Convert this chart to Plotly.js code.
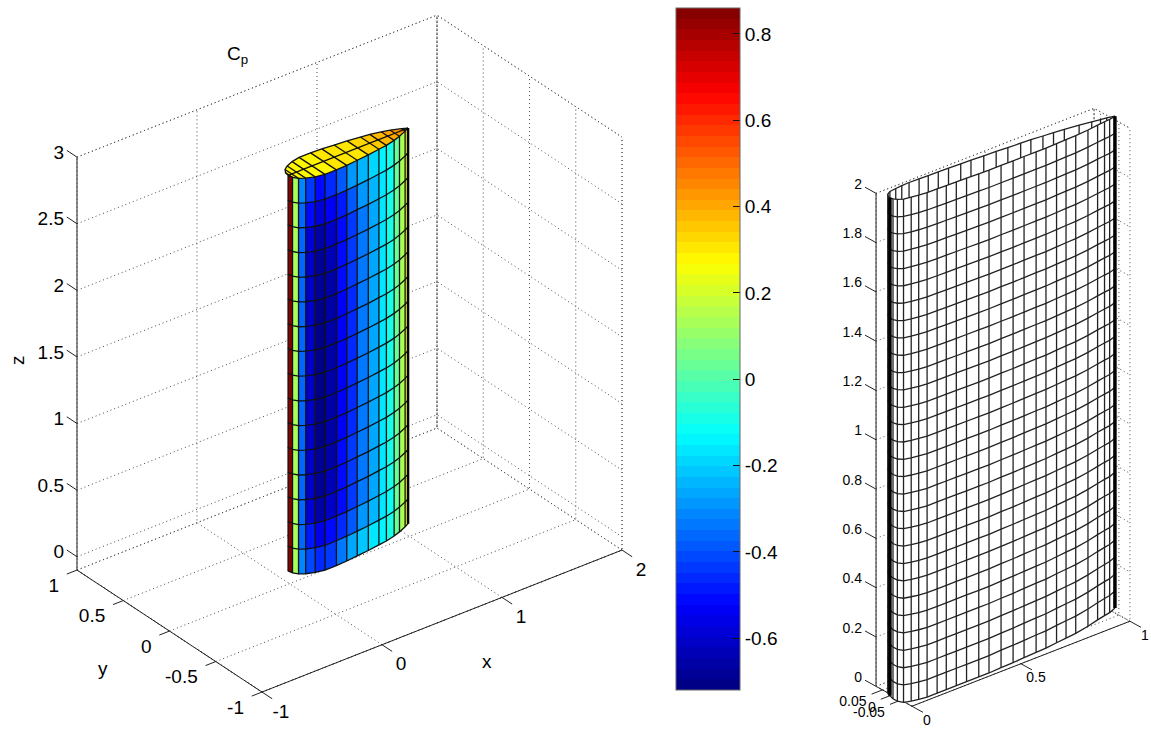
<!DOCTYPE html>
<html><head><meta charset="utf-8">
<script src="https://cdn.plot.ly/plotly-3.0.1.min.js"></script>
<style>html,body{margin:0;padding:0;background:#fff}#g{width:1151px;height:729px}</style>
</head><body><div id="g"></div>
<script>
// ---------- data ----------
const leftChord = [-.012,-.004,.019,.058,.118,.188,.283,.373,.468,.568,.668,.738,.818,.878,.948,.988];
const leftThick = [0,.038,.073,.1,.125,.14,.14,.135,.125,.115,.1,.09,.07,.05,.02,0];
const leftSpan  = [0,.186,.371,.557,.743,.928,1.114,1.299,1.485,1.671,1.856,2.042,2.228,2.413,2.599,2.784,2.97];
const cpRows = [
 [.86,.13,-.32,-.42,-.46,-.44,-.34,-.26,-.22,-.17,-.13,-.08,.03,.13,.25],
 [.86,.13,-.36,-.48,-.56,-.52,-.46,-.38,-.30,-.24,-.17,-.11,.03,.13,.25],
 [.86,.13,-.37,-.58,-.65,-.60,-.52,-.44,-.34,-.26,-.17,-.10,.03,.13,.25],
 [.86,.13,-.37,-.60,-.68,-.64,-.52,-.44,-.34,-.26,-.17,-.10,.03,.13,.25],
 [.86,.13,-.37,-.61,-.69,-.66,-.52,-.44,-.34,-.26,-.17,-.10,.03,.13,.25],
 [.86,.13,-.37,-.61,-.70,-.66,-.53,-.45,-.34,-.26,-.17,-.10,.03,.13,.25],
 [.86,.13,-.37,-.62,-.70,-.66,-.53,-.45,-.34,-.26,-.17,-.10,.03,.13,.25],
 [.86,.13,-.37,-.62,-.70,-.67,-.53,-.45,-.34,-.26,-.17,-.10,.03,.13,.25],
 [.86,.13,-.37,-.62,-.70,-.67,-.53,-.45,-.34,-.26,-.17,-.10,.03,.13,.25],
 [.86,.13,-.37,-.62,-.70,-.66,-.53,-.45,-.34,-.26,-.17,-.10,.03,.13,.25],
 [.86,.13,-.37,-.61,-.70,-.66,-.53,-.45,-.34,-.26,-.17,-.10,.03,.13,.25],
 [.86,.13,-.37,-.61,-.69,-.66,-.52,-.44,-.34,-.26,-.17,-.10,.03,.13,.25],
 [.86,.13,-.37,-.60,-.68,-.64,-.52,-.44,-.34,-.26,-.17,-.10,.03,.13,.25],
 [.86,.13,-.37,-.58,-.65,-.60,-.52,-.44,-.34,-.26,-.17,-.10,.03,.13,.25],
 [.86,.13,-.36,-.52,-.58,-.54,-.48,-.38,-.30,-.24,-.17,-.11,.03,.13,.25],
 [.86,.13,-.32,-.44,-.50,-.46,-.38,-.30,-.24,-.18,-.13,-.08,.03,.13,.25]
];
const capCp = [.30,.30,.29,.29,.29,.29,.30,.30,.31,.33,.35,.38,.40,.42,.42];
const rightChord = [-.008,-.005,.004,.023,.054,.085,.121,.167,.209,.255,.302,.358,.405,.462,.518,.57,.627,.673,.725,.771,.818,.88,.931,.967,.993,1.024];
const rightThick = [0,.013,.026,.037,.042,.046,.049,.049,.049,.049,.049,.049,.049,.047,.046,.044,.042,.041,.037,.034,.031,.024,.016,.011,.008,0];
const rightSpan = [0,.07,.139,.209,.279,.348,.418,.488,.557,.627,.697,.766,.836,.906,.975,1.045,1.115,1.184,1.254,1.323,1.393,1.463,1.532,1.602,1.672,1.741,1.811,1.881,1.95,2.02];
const rightTaper = .012, rightDroop = .03;
const leftXTicks=[-1,0,1,2], leftYTicks=[-1,-.5,0,.5,1], leftZTicks=[0,.5,1,1.5,2,2.5,3];
const rightXTicks=[0,.5,1], rightYTicks=[-.05,0,.05], rightZTicks=[0,.2,.4,.6,.8,1,1.2,1.4,1.6,1.8,2];
const cbTicks=[-.6,-.4,-.2,0,.2,.4,.6,.8];
const cpMin=-.72, cpMax=.86;

// ---------- colour map ----------
function jet(u){const f=a=>Math.round(255*Math.max(0,Math.min(1,1.5-Math.abs(4*u-a))));return `rgb(${f(3)},${f(2)},${f(1)})`;}
const N=64, jetScale=[];
for(let i=0;i<N;i++){const c=jet((i+.5)/N);jetScale.push([i/N,c],[(i+1)/N,c]);}
const bin=v=>Math.min(N-1,Math.max(0,Math.floor((v-cpMin)/(cpMax-cpMin)*N)));

// ---------- 3-D view: orthographic projection of data onto the 2-D plotting plane ----------
function View(o,vx,vy,vz,xr,yr,zr){
  const p=(x,y,z)=>[o[0]+x*vx[0]+y*vy[0]+z*vz[0], o[1]+x*vx[1]+y*vy[1]+z*vz[1]];
  return {p,xr,yr,zr};
}
const VL=View([289.5,570.4],[120,-47.33],[-92.5,-61],[0,-133.2],[-1,2],[-1,1],[-.1,3]);
const VR=View([891.7,695],[218,-85],[-184,-102],[0,-246.5],[0,1],[-.11,.085],[0,2]);

function Path(v){return {x:[],y:[],add(pts){pts.forEach(q=>{const s=v.p(q[0],q[1],q[2]);this.x.push(s[0]);this.y.push(s[1]);});this.x.push(null);this.y.push(null);}};}
function lineTrace(P,color,width,dash){return {type:'scatter',mode:'lines',x:P.x,y:P.y,hoverinfo:'skip',showlegend:false,cliponaxis:false,line:{color,width,dash:dash||'solid',simplify:false}};}
function fillTrace(P,color){return {type:'scatter',mode:'lines',x:P.x,y:P.y,hoverinfo:'skip',showlegend:false,cliponaxis:false,fill:'toself',fillcolor:color,line:{width:0,color:color,simplify:false}};}
function textTrace(xs,ys,txt,pos,size){return {type:'scatter',mode:'text',x:xs,y:ys,text:txt,textposition:pos,hoverinfo:'skip',showlegend:false,cliponaxis:false,textfont:{family:'Liberation Sans, Arial, sans-serif',size,color:'#000'}};}

function gridWalls(v,xt,yt,zt){
  const L=Path(v),[x0,x1]=v.xr,[y0,y1]=v.yr,[z0,z1]=v.zr;
  xt.concat([x1]).forEach(a=>L.add([[a,y0,z0],[a,y1,z0],[a,y1,z1]]));
  yt.concat([y0,y1]).forEach(a=>L.add([[x0,a,z0],[x1,a,z0],[x1,a,z1]]));
  zt.concat([z1]).forEach(a=>L.add([[x0,y1,a],[x1,y1,a],[x1,y0,a]]));
  L.add([[x0,y0,z0],[x0,y1,z0]]);
  return lineTrace(L,'#4a4a4a',1,'1px,3px');
}
function axesFrame(v,xt,yt,zt,tx,ty,tz){
  const L=Path(v),[x0,x1]=v.xr,[y0,y1]=v.yr,[z0,z1]=v.zr;
  L.add([[x0,y1,z0],[x0,y1,z1]]);L.add([[x0,y1,z0],[x0,y0,z0],[x1,y0,z0]]);
  xt.forEach(a=>L.add([[a,y0,z0],[a,y0-tx,z0]]));
  yt.forEach(a=>L.add([[x0,a,z0],[x0-ty,a,z0]]));
  zt.forEach(a=>L.add([[x0,y1,a],[x0,y1+tz,a]]));
  return lineTrace(L,'#222',1);
}
function labels(v,vals,fn,dx,dy,pos,size){
  const xs=[],ys=[];vals.forEach(a=>{const s=fn(a);xs.push(s[0]+dx);ys.push(s[1]+dy);});
  return textTrace(xs,ys,vals.map(String),pos,size);
}

// ---------- left wing ----------
const binPaths={}, centreX=[], centreY=[], centreC=[];
function cell(c,pts){const b=bin(c);(binPaths[b]=binPaths[b]||Path(VL)).add(pts.concat([pts[0]]));
  const s=VL.p(pts[0][0],pts[0][1],pts[0][2]);centreX.push(s[0]);centreY.push(s[1]);centreC.push(c);}
const zTop=leftSpan[leftSpan.length-1];
for(let r=0;r<leftSpan.length-1;r++)for(let c=0;c<leftChord.length-1;c++)
  cell(cpRows[r][c],[[leftChord[c],-leftThick[c],leftSpan[r]],[leftChord[c+1],-leftThick[c+1],leftSpan[r]],[leftChord[c+1],-leftThick[c+1],leftSpan[r+1]],[leftChord[c],-leftThick[c],leftSpan[r+1]]]);
for(let c=0;c<leftChord.length-1;c++)
  cell(capCp[c],[[leftChord[c],-leftThick[c],zTop],[leftChord[c+1],-leftThick[c+1],zTop],[leftChord[c+1],leftThick[c+1],zTop],[leftChord[c],leftThick[c],zTop]]);
const gL=Path(VL);
leftSpan.forEach(z=>gL.add(leftChord.map((x,i)=>[x,-leftThick[i],z])));
leftChord.forEach((x,i)=>gL.add([[x,-leftThick[i],0],[x,-leftThick[i],zTop],[x,leftThick[i],zTop]]));
gL.add(leftChord.map(x=>[x,0,zTop]));
gL.add(leftChord.map((x,i)=>[x,leftThick[i],zTop]));
const teL=Path(VL);teL.add([[leftChord[15],0,0],[leftChord[15],0,zTop]]);

// ---------- right wing ----------
const farF=Path(VR),farL=Path(VR),nearF=Path(VR),nearL=Path(VR),edgeR=Path(VR);
const zR1=rightSpan[rightSpan.length-1], tMax=Math.max(...rightThick);
function rPt(i,s,z){const x=rightChord[i],t=rightThick[i];
  let zz=z*(1-rightTaper*Math.max(0,x));
  if(s<0) zz-=rightDroop*(t/tMax)*(1-z/zR1);
  return [x,s*t,zz];}
[[1,farF,farL],[-1,nearF,nearL]].forEach(([s,F,G])=>{
  for(let c=0;c<rightChord.length-1;c++)
    F.add([rPt(c,s,0),rPt(c+1,s,0),rPt(c+1,s,zR1),rPt(c,s,zR1),rPt(c,s,0)]);
  rightSpan.forEach(z=>G.add(rightChord.map((x,i)=>rPt(i,s,z))));
  rightChord.forEach((x,i)=>G.add(rightSpan.map(z=>rPt(i,s,z))));
});
edgeR.add([rPt(0,1,0),rPt(0,1,zR1)]);
edgeR.add([rPt(rightChord.length-1,1,0),rPt(rightChord.length-1,1,zR1)]);

// ---------- colour-bar ticks on the left side of the bar ----------
const cbTop=8, cbBottom=690, cbLeft=676, cbWidth=64;
const cbX=[],cbY=[];
cbTicks.forEach(v=>{const y=cbBottom-(v-cpMin)/(cpMax-cpMin)*(cbBottom-cbTop);cbX.push(cbLeft,cbLeft+7,null);cbY.push(y,y,null);});

const F19=19,F14=14;
const traces=[
 {type:'scatter',mode:'markers',x:centreX,y:centreY,hoverinfo:'skip',showlegend:false,
  marker:{size:1,color:centreC,colorscale:jetScale,cmin:cpMin,cmax:cpMax,showscale:true,
   colorbar:{x:cbLeft/1151,xanchor:'left',y:1-cbBottom/729,yanchor:'bottom',len:(cbBottom-cbTop)/729,lenmode:'fraction',thickness:cbWidth,thicknessmode:'pixels',xpad:0,ypad:0,tickmode:'array',tickvals:cbTicks,ticktext:cbTicks.map(String),ticks:'inside',ticklen:7,tickcolor:'#111',tickfont:{family:'Liberation Sans, Arial, sans-serif',size:F19,color:'#000'},outlinecolor:'#666',outlinewidth:1}}},
 gridWalls(VL,leftXTicks,leftYTicks,leftZTicks),
 axesFrame(VL,leftXTicks,leftYTicks,leftZTicks,.11,.085,.11),
 ...Object.keys(binPaths).map(b=>fillTrace(binPaths[b],jet((+b+.5)/N))),
 lineTrace(gL,'#111',1.3),
 lineTrace(teL,'#000',2.5),
 labels(VL,leftZTicks,a=>VL.p(-1,1,a),-13,-3,'middle left',F19),
 labels(VL,leftYTicks,a=>VL.p(-1,a,-.1),-18,17,'middle left',F19),
 labels(VL,leftXTicks,a=>VL.p(a,-1,-.1),19,21,'middle center',F19),
 gridWalls(VR,rightXTicks,rightYTicks,rightZTicks),
 axesFrame(VR,rightXTicks,rightYTicks,rightZTicks,.06,.05,.06),
 fillTrace(farF,'#fff'),lineTrace(farL,'#222',1.3),
 fillTrace(nearF,'#fff'),lineTrace(nearL,'#222',1.3),
 lineTrace(edgeR,'#000',3.5),
 labels(VR,rightZTicks,a=>VR.p(0,.085,a),-14,-8,'middle left',F14),
 labels(VR,rightYTicks,a=>VR.p(0,a,0),-16,13,'middle left',F14),
 labels(VR,rightXTicks,a=>VR.p(a,-.11,0),15,15,'middle center',F14),
 {type:'scatter',mode:'lines',x:cbX,y:cbY,hoverinfo:'skip',showlegend:false,cliponaxis:false,line:{color:'#111',width:1}}
];
const tfont={family:'Liberation Sans, Arial, sans-serif',size:F19,color:'#000'};
const layout={width:1151,height:729,margin:{l:0,r:0,t:0,b:0},paper_bgcolor:'#fff',plot_bgcolor:'#fff',showlegend:false,
 xaxis:{range:[0,1151],visible:false,fixedrange:true},yaxis:{range:[729,0],visible:false,fixedrange:true},
 annotations:[
  {xref:'x',yref:'y',x:237,y:55,text:'C<sub>p</sub>',showarrow:false,font:tfont},
  {xref:'x',yref:'y',x:487,y:661,text:'x',showarrow:false,font:tfont},
  {xref:'x',yref:'y',x:103,y:668,text:'y',showarrow:false,font:tfont},
  {xref:'x',yref:'y',x:17,y:360,text:'z',textangle:-90,showarrow:false,font:tfont}
 ]};
Plotly.newPlot('g',traces,layout,{displayModeBar:false,staticPlot:true});
</script></body></html>
